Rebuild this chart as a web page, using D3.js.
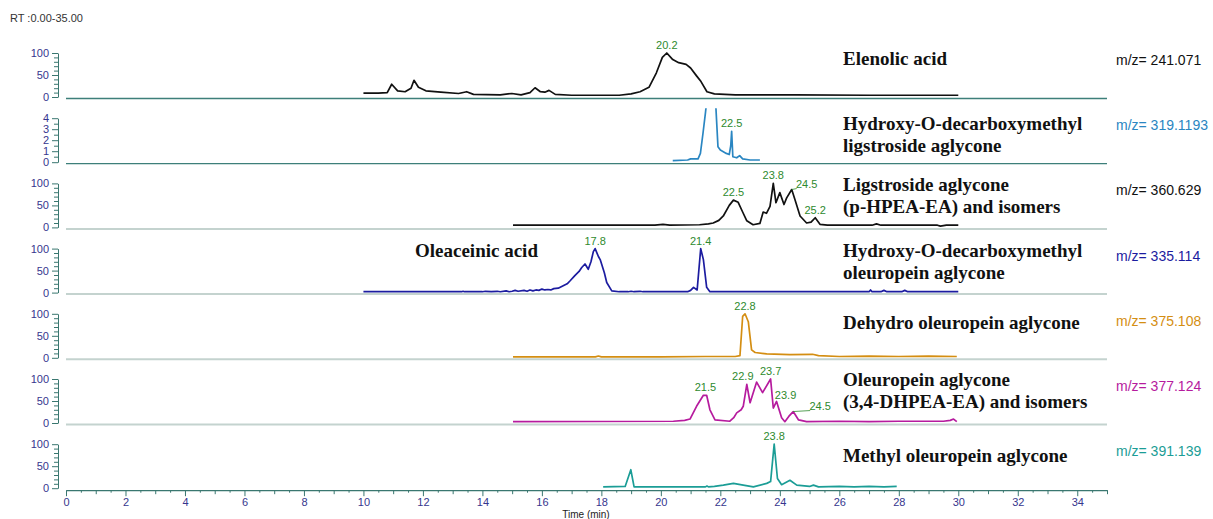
<!DOCTYPE html>
<html lang="en">
<head>
  <meta charset="UTF-8">
  <title>Chromatograms</title>
  <style>
    body { margin: 0; background: #fff; overflow: hidden; }
    svg { display: block; }
    .axis text { font-family: "Liberation Sans", Arial, sans-serif; font-size: 11px; fill: #36368e; }
    .axis line, .axis path { stroke: #3a7770; }
  </style>
</head>
<body>
  <div class="workspace"></div>
  <script src="https://d3js.org/d3.v7.min.js"></script>
  <script>
    // one row per extracted ion chromatogram, [time (min), relative abundance]
    const compoundNames = [
      ['Elenolic acid'],
      ['Hydroxy-O-decarboxymethyl', 'ligstroside aglycone'],
      ['Ligstroside aglycone', '(p-HPEA-EA) and isomers'],
      ['Hydroxy-O-decarboxymethyl', 'oleuropein aglycone'],
      ['Dehydro oleuropein aglycone'],
      ['Oleuropein aglycone', '(3,4-DHPEA-EA) and isomers'],
      ['Methyl oleuropein aglycone']
    ]
    const mzValues = ['241.071', '319.1193', '360.629', '335.114', '375.108', '377.124', '391.139']
    const yMaxes = [100, 4, 100, 100, 100, 100, 100]
    const xTicks = d3.range(0, 35, 2)

    const elenolicTrace = [[10,9],[10.5,9],[10.8,10],[10.95,29],[11.15,14],[11.4,12],[11.6,20],[11.7,38],[11.85,22],[12.1,14],[12.6,11],[13.2,8],[13.47,12],[13.7,6],[14.6,5],[14.99,8],[15.3,5],[15.6,10],[15.77,21],[15.95,12],[16.1,11],[16.24,15],[16.45,6],[17,4],[18.6,4],[19.0,7],[19.3,12],[19.6,22],[19.85,55],[20.05,90],[20.2,100],[20.4,85],[20.6,78],[20.85,74],[21.0,66],[21.2,48],[21.35,35],[21.55,12],[21.8,7],[22.5,5],[24.5,5],[27,4],[30,4]]
    const hydroxyLigTrace = [[20.4,0.15],[20.9,0.2],[21.0,0.3],[21.25,0.3],[21.33,0.8],[21.42,2.7],[21.5,4.5],[21.6,7],[21.75,8],[21.85,5],[21.92,1.4],[22.0,1.1],[22.2,0.8],[22.3,0.7],[22.35,1.5],[22.38,2.8],[22.42,0.5],[22.55,0.4],[22.65,0.6],[22.75,0.3],[23.0,0.2],[23.33,0.2]]
    const ligstrosideTrace = [[15.03,5],[17,5],[19.8,5],[20.07,7],[20.3,5],[21.3,6],[21.6,8],[21.76,10],[21.95,16],[22.1,26],[22.3,50],[22.44,62],[22.6,57],[22.75,35],[22.89,15],[23.1,6],[23.33,9],[23.44,35],[23.55,32],[23.67,48],[23.78,100],[23.87,56],[24.0,79],[24.14,52],[24.23,67],[24.4,86],[24.51,63],[24.68,26],[24.9,10],[25.05,12],[25.19,22],[25.35,7],[25.6,5],[27.1,5],[27.25,8],[27.4,5],[29.3,5],[29.4,3],[29.6,5],[30,5]]
    const oleaceinicTrace = [[10,2],[13.3,2],[13.35,3],[13.4,2],[14.0,2],[14.1,3],[14.3,2],[14.5,3],[14.6,2],[14.8,4],[14.9,2],[15.0,3],[15.1,5],[15.2,3],[15.4,5],[15.5,3],[15.6,6],[15.7,4],[15.8,6],[15.9,5],[16.0,8],[16.1,6],[16.2,7],[16.3,6],[16.4,9],[16.55,10],[16.7,15],[16.85,20],[16.95,27],[17.1,38],[17.25,48],[17.34,57],[17.45,65],[17.56,53],[17.65,70],[17.73,93],[17.79,100],[17.9,82],[17.96,75],[18.1,45],[18.18,23],[18.35,4],[18.6,2],[18.9,2],[19.0,3],[19.1,2],[19.3,3],[19.4,2],[20.9,2],[21.0,5],[21.1,12],[21.22,6],[21.34,100],[21.43,75],[21.54,12],[21.65,2],[27.0,2],[27.05,6],[27.1,2],[27.4,2],[27.5,5],[27.6,2],[28.1,2],[28.2,5],[28.3,2],[30,2]]
    const dehydroTrace = [[15.03,2],[17.8,2],[17.9,4],[18.0,2],[20,2],[21.5,3],[22.5,3],[22.66,5],[22.75,94],[22.83,100],[22.94,82],[23.05,18],[23.17,12],[23.56,9],[24.34,7],[25.1,8],[25.3,5],[26,3],[27,4],[28,3],[29,4],[29.95,3]]
    const oleuropeinTrace = [[15.03,3],[20.42,4],[20.8,6],[20.98,9],[21.2,38],[21.43,63],[21.54,63],[21.65,30],[21.82,7],[22.32,4],[22.45,12],[22.55,23],[22.7,30],[22.77,38],[22.89,88],[23.0,46],[23.22,93],[23.42,69],[23.69,100],[23.78,34],[23.89,49],[24.06,12],[24.17,3],[24.3,15],[24.45,26],[24.63,7],[24.9,3],[26,4],[27,3],[28,4],[29.5,4],[29.73,6],[29.84,9],[29.95,3]]
    const methylTrace = [[18.06,3],[18.8,4],[18.99,42],[19.1,3],[21.5,3],[21.55,5],[21.6,3],[21.8,4],[22.1,7],[22.44,11],[22.77,7],[23.11,3],[23.56,11],[23.69,15],[23.81,100],[23.92,22],[24.06,8],[24.34,18],[24.57,7],[25.0,4],[25.13,7],[25.3,3],[26,4],[26.5,3],[27.0,4],[27.5,3],[27.93,4]]
    const traces = [elenolicTrace, hydroxyLigTrace, ligstrosideTrace, oleaceinicTrace, dehydroTrace, oleuropeinTrace, methylTrace]

    // retention time labels: [time, abundance, text]
    const peakLabels = [
      [[20.2, 100, '20.2']],
      [[22.38, 2.8, '22.5']],
      [[22.44, 62, '22.5'], [23.78, 100, '23.8'], [24.4, 86, '24.5'], [25.19, 22, '25.2']],
      [[17.79, 100, '17.8'], [21.34, 100, '21.4']],
      [[22.83, 100, '22.8']],
      [[21.5, 63, '21.5'], [22.89, 88, '22.9'], [23.69, 100, '23.7'], [23.89, 49, '23.9'], [24.45, 26, '24.5']],
      [[23.81, 100, '23.8']]
    ]

    const width = 1213
    const height = 519
    const colors = ['#111111', '#2a86c2', '#111111', '#1c1ca0', '#d48e12', '#b61b9e', '#1b9d96']
    const panelStep = 65.2
    const nameOffsets = [12, 12, 8, 8, 15, 7, 18]
    // label nudges: panel-text -> [dx, dy, leader line]
    const nudges = { '2-24.5': [15, 2, true], '5-24.5': [27, 2, true], '5-23.9': [9, 2, false], '5-22.9': [-4, 0, false] }

    const svg = d3.select('.workspace').append('svg')
      .attr('width', width)
      .attr('height', height)

    const x = d3.scaleLinear().domain([0, 35]).range([66, 1107])

    svg.append('text')
      .attr('x', 10).attr('y', 22)
      .style('font-family', '"Liberation Sans", Arial, sans-serif')
      .style('font-size', '11px')
      .style('fill', '#333')
      .text('RT :0.00-35.00')

    traces.forEach((trace, i) => {
      const top = 53 + i * panelStep
      const zero = 97 + i * panelStep
      const max = yMaxes[i]
      const y = d3.scaleLinear().domain([0, max]).range([zero, top])
      const g = svg.append('g')

      // separator / baseline
      if (i < 6) {
        g.append('line')
          .attr('x1', x(0)).attr('x2', x(35))
          .attr('y1', zero + 1.5).attr('y2', zero + 1.5)
          .attr('stroke', i < 2 ? '#3d7f7a' : '#c4d3cf')
          .attr('stroke-width', i < 2 ? 1.3 : 2)
      }

      // y axis
      const step = max === 100 ? 10 : 0.5
      const major = max === 100 ? 50 : 1
      const isMajor = v => Math.abs(v / major - Math.round(v / major)) < 1e-6
      const ya = g.append('g')
        .attr('class', 'axis')
        .attr('transform', 'translate(58,0)')
        .call(d3.axisLeft(y)
          .tickValues(d3.range(0, max + step / 2, step))
          .tickSize(4)
          .tickSizeOuter(0)
          .tickPadding(5)
          .tickFormat(v => isMajor(v) ? d3.format('d')(v) : ''))
      ya.selectAll('.tick line')
        .attr('x2', v => isMajor(v) ? -6 : -4)

      // clip for off-scale peaks
      const clipId = 'clip' + i
      svg.append('clipPath').attr('id', clipId)
        .append('rect')
        .attr('x', x(0)).attr('y', top - 10)
        .attr('width', x(35) - x(0)).attr('height', zero - top + 12)

      const line = d3.line()
        .x(d => x(d[0]))
        .y(d => y(d[1]))

      g.append('path')
        .datum(trace)
        .attr('clip-path', `url(#${clipId})`)
        .attr('fill', 'none')
        .attr('stroke', colors[i])
        .attr('stroke-width', 1.7)
        .attr('stroke-linejoin', 'round')
        .attr('d', line)

      // peak labels
      peakLabels[i].forEach(p => {
        const n = nudges[i + '-' + p[2]] || [0, 0, false]
        const px = x(p[0]), py = y(p[1])
        if (n[2]) {
          g.append('line')
            .attr('x1', px).attr('y1', py)
            .attr('x2', px + n[0] - 10).attr('y2', py - 1)
            .attr('stroke', '#2e8a2e').attr('stroke-width', 0.8)
        }
        g.append('text')
          .attr('x', px + n[0])
          .attr('y', py - 4 + n[1])
          .attr('text-anchor', 'middle')
          .style('font-family', '"Liberation Sans", Arial, sans-serif')
          .style('font-size', '11px')
          .style('fill', '#2e8a2e')
          .text(p[2])
      })

      // compound name
      const name = g.append('text')
        .attr('x', 843)
        .attr('y', top + nameOffsets[i])
        .style('font-family', '"Liberation Serif", "Times New Roman", serif')
        .style('font-weight', 'bold')
        .style('font-size', '19px')
        .style('fill', '#111')
      name.selectAll('tspan')
        .data(compoundNames[i])
        .enter().append('tspan')
        .attr('x', 843)
        .attr('dy', (d, k) => k === 0 ? 0 : 22)
        .text(d => d)

      // m/z label
      g.append('text')
        .attr('x', 1116)
        .attr('y', top + 12)
        .style('font-family', '"Liberation Sans", Arial, sans-serif')
        .style('font-size', '14px')
        .style('fill', colors[i])
        .text('m/z= ' + mzValues[i])
    })

    // extra label in panel 4
    svg.append('text')
      .attr('x', 415)
      .attr('y', 53 + 3 * panelStep + 8)
      .style('font-family', '"Liberation Serif", "Times New Roman", serif')
      .style('font-weight', 'bold')
      .style('font-size', '19px')
      .style('fill', '#111')
      .text('Oleaceinic acid')

    // time axis
    const axisY = 97 + 6 * panelStep + 2
    const xa = svg.append('g')
      .attr('class', 'axis')
      .attr('transform', `translate(0,${axisY})`)
      .call(d3.axisBottom(x)
        .tickValues(d3.range(0, 35.01, 0.5))
        .tickSize(3)
        .tickSizeOuter(0)
        .tickPadding(5)
        .tickFormat(v => xTicks.includes(v) ? v : ''))
    xa.selectAll('.tick line')
      .attr('y2', v => v % 2 === 0 ? 6 : (v % 1 === 0 ? 4 : 2.5))
    xa.select('.domain').attr('stroke-width', 1.3)

    svg.append('text')
      .attr('x', 586)
      .attr('y', 518)
      .attr('text-anchor', 'middle')
      .style('font-family', '"Liberation Sans", Arial, sans-serif')
      .style('font-size', '10px')
      .style('fill', '#222')
      .text('Time (min)')
  </script>
</body>
</html>
